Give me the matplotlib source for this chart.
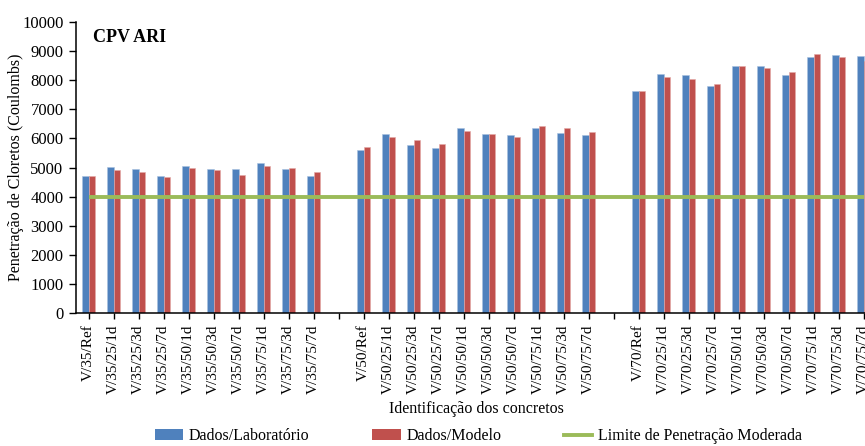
import matplotlib
matplotlib.use("Agg")
import matplotlib.pyplot as plt
from matplotlib.lines import Line2D
from matplotlib.patches import Patch

plt.rcParams['font.family'] = ['Liberation Serif', 'DejaVu Serif']

# Concrete identifiers, grouped by w/c series (empty slot between groups)
grupo_35 = ["V/35/Ref", "V/35/25/1d", "V/35/25/3d", "V/35/25/7d", "V/35/50/1d",
            "V/35/50/3d", "V/35/50/7d", "V/35/75/1d", "V/35/75/3d", "V/35/75/7d"]
grupo_50 = ["V/50/Ref", "V/50/25/1d", "V/50/25/3d", "V/50/25/7d", "V/50/50/1d",
            "V/50/50/3d", "V/50/50/7d", "V/50/75/1d", "V/50/75/3d", "V/50/75/7d"]
grupo_70 = ["V/70/Ref", "V/70/25/1d", "V/70/25/3d", "V/70/25/7d", "V/70/50/1d",
            "V/70/50/3d", "V/70/50/7d", "V/70/75/1d", "V/70/75/3d", "V/70/75/7d"]

# Charge passed (Coulombs)
lab_35 = [4720, 5030, 4950, 4720, 5060, 4950, 4950, 5140, 4950, 4720]
mod_35 = [4720, 4900, 4830, 4660, 4980, 4900, 4750, 5060, 4980, 4830]
lab_50 = [5600, 6150, 5760, 5660, 6340, 6150, 6130, 6340, 6200, 6130]
mod_50 = [5710, 6030, 5940, 5820, 6240, 6150, 6030, 6430, 6370, 6230]
lab_70 = [7610, 8190, 8160, 7790, 8480, 8480, 8160, 8790, 8850, 8810]
mod_70 = [7610, 8110, 8030, 7870, 8480, 8420, 8270, 8880, 8790, 8660]

limite = 4000  # moderate penetration limit

categorias = grupo_35 + [""] + grupo_50 + [""] + grupo_70
laboratorio = lab_35 + [None] + lab_50 + [None] + lab_70
modelo = mod_35 + [None] + mod_50 + [None] + mod_70

azul = "#4F81BD"
vermelho = "#C0504D"
verde = "#9BBB59"

fig = plt.figure(figsize=(8.65, 4.46), dpi=100)
ax = fig.add_axes([0.0879, 0.2975, 0.9249, 0.6538])

w = 0.27
pos = list(range(len(categorias)))
xs_lab = [p - w / 2 for p, v in zip(pos, laboratorio) if v is not None]
vs_lab = [v for v in laboratorio if v is not None]
xs_mod = [p + w / 2 for p, v in zip(pos, modelo) if v is not None]
vs_mod = [v for v in modelo if v is not None]

ax.bar(xs_lab, vs_lab, width=w, color=azul, edgecolor="#A9C1E0", linewidth=0.4, zorder=2)
ax.bar(xs_mod, vs_mod, width=w, color=vermelho, edgecolor="#E3A9A7", linewidth=0.4, zorder=2)
ax.plot(pos, [limite] * len(pos), color=verde, linewidth=2.8, zorder=3,
        solid_capstyle="butt")

ax.set_xlim(-0.5, len(categorias) - 0.5)
ax.set_ylim(0, 10000)
ax.set_yticks(range(0, 10001, 1000))
ax.set_xticks(pos)
ax.set_xticklabels(categorias, rotation=90, fontsize=11)
ax.tick_params(axis="y", labelsize=12, direction="out", length=5, width=1, pad=4)
ax.tick_params(axis="x", direction="out", length=4, width=1, pad=4)

for s in ("top", "right"):
    ax.spines[s].set_visible(False)
for s in ("left", "bottom"):
    ax.spines[s].set_linewidth(1.1)

ax.set_ylabel("Penetração de Cloretos (Coulombs)", fontsize=11.5)
ax.yaxis.set_label_coords(-0.065, 0.5)
ax.set_xlabel("Identificação dos concretos", fontsize=11.5, labelpad=5)

ax.text(0.021, 0.975, "CPV ARI", transform=ax.transAxes, fontsize=13,
        fontweight="bold", va="top", ha="left")

handles = [Patch(facecolor=azul), Patch(facecolor=vermelho),
           Line2D([0], [0], color=verde, linewidth=2.8)]
labels = ["Dados/Laboratório", "Dados/Modelo", "Limite de Penetração Moderada"]
fig.legend(handles, labels, loc="center", bbox_to_anchor=(0.553, 0.022), ncol=3,
           frameon=False, fontsize=11.5, columnspacing=3.9, handlelength=1.8,
           handletextpad=0.35, handleheight=0.6)

fig.savefig("out.png", dpi=100)
